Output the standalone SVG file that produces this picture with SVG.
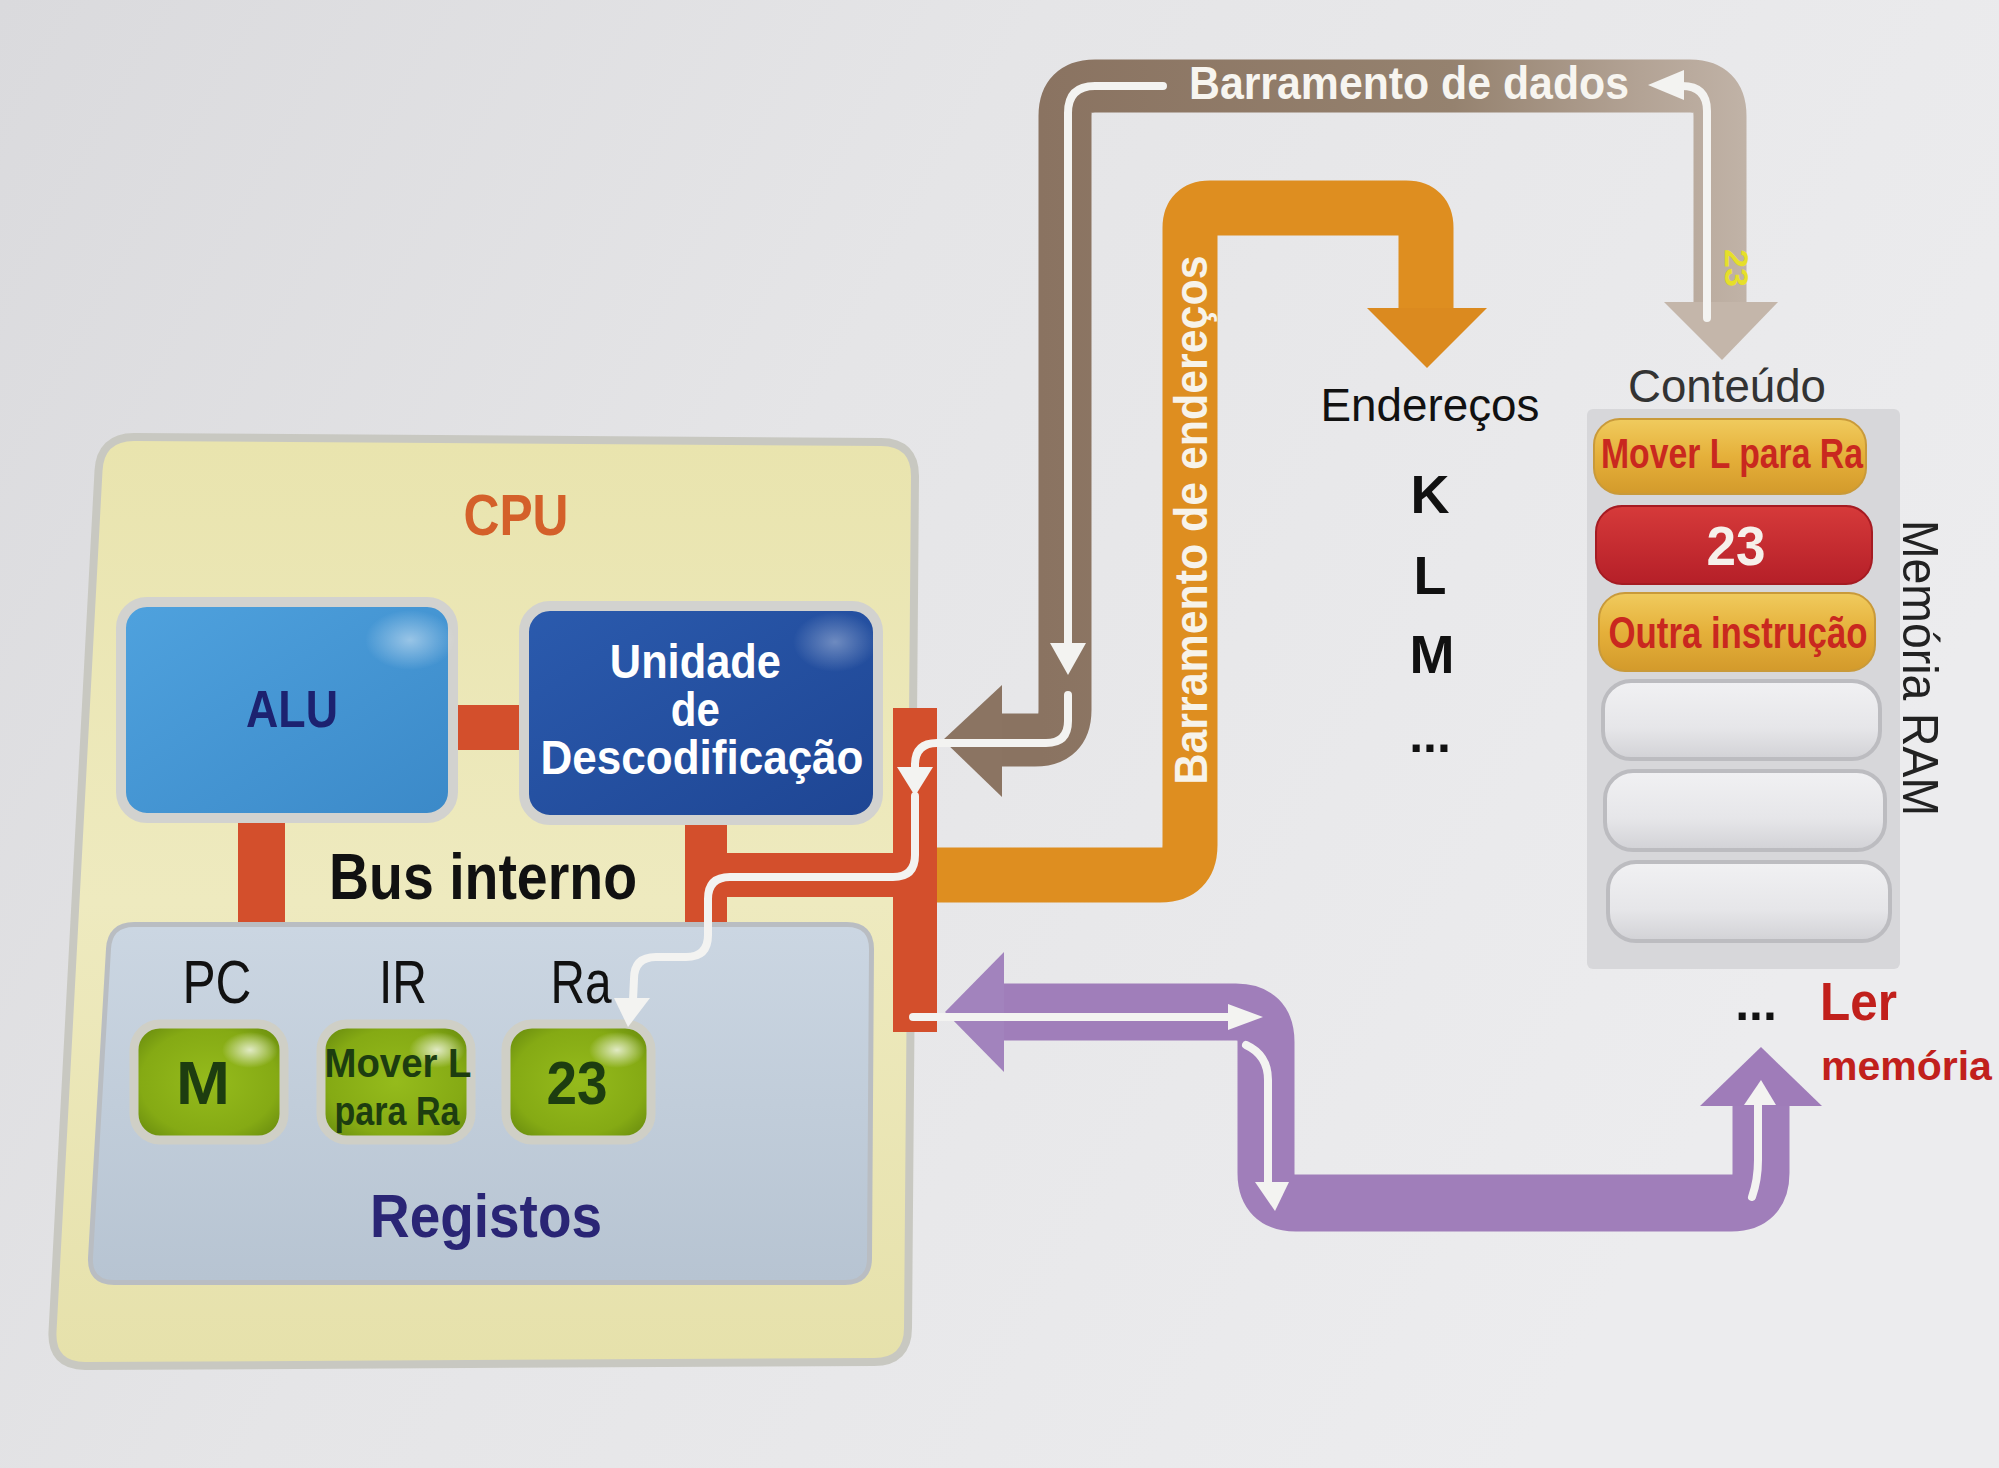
<svg xmlns="http://www.w3.org/2000/svg" width="1999" height="1468" viewBox="0 0 1999 1468">
<defs>
<style>
.t{font-family:"Liberation Sans",Arial,sans-serif}
.b{font-weight:bold}
.wl{fill:none;stroke:#f3f3f1;stroke-width:8;stroke-linecap:round;stroke-linejoin:round}
.wa{fill:#f3f3f1}
.red{fill:#d34f2c}
.rim{stroke:#d2d2cf;stroke-width:10}
.grim{stroke:#cfcfc6;stroke-width:9}
.bus{fill:none;stroke-linejoin:round}
</style>
<linearGradient id="bg" x1="0" y1="0" x2="1" y2="0.4">
<stop offset="0" stop-color="#dadadd"/><stop offset="0.45" stop-color="#e5e5e7"/><stop offset="1" stop-color="#ececee"/>
</linearGradient>
<linearGradient id="cpuG" x1="0" y1="0" x2="0" y2="1">
<stop offset="0" stop-color="#e9e4ae"/><stop offset="0.5" stop-color="#eeeabf"/><stop offset="1" stop-color="#e6e1ab"/>
</linearGradient>
<linearGradient id="aluG" x1="0" y1="0" x2="1" y2="1">
<stop offset="0" stop-color="#4fa2de"/><stop offset="1" stop-color="#3b89c8"/>
</linearGradient>
<linearGradient id="udG" x1="0" y1="0" x2="1" y2="1">
<stop offset="0" stop-color="#2b5bae"/><stop offset="1" stop-color="#1e4593"/>
</linearGradient>
<linearGradient id="regG" x1="0" y1="0" x2="0" y2="1">
<stop offset="0" stop-color="#cbd6e2"/><stop offset="1" stop-color="#b7c4d2"/>
</linearGradient>
<radialGradient id="greenG" cx="0.5" cy="0.5" r="0.65">
<stop offset="0" stop-color="#95bb1c"/><stop offset="0.7" stop-color="#85aa14"/><stop offset="1" stop-color="#678a0e"/>
</radialGradient>
<radialGradient id="gloss" cx="0.5" cy="0.5" r="0.5">
<stop offset="0" stop-color="#ffffff" stop-opacity="0.75"/><stop offset="1" stop-color="#ffffff" stop-opacity="0"/>
</radialGradient>
<linearGradient id="goldG" x1="0" y1="0" x2="0" y2="1">
<stop offset="0" stop-color="#f0cb5e"/><stop offset="0.5" stop-color="#e5b03a"/><stop offset="1" stop-color="#d39a2b"/>
</linearGradient>
<linearGradient id="redG" x1="0" y1="0" x2="0" y2="1">
<stop offset="0" stop-color="#d63a3a"/><stop offset="1" stop-color="#b51f28"/>
</linearGradient>
<linearGradient id="grayC" x1="0" y1="0" x2="0" y2="1">
<stop offset="0" stop-color="#f1f1f3"/><stop offset="0.6" stop-color="#e6e6e9"/><stop offset="1" stop-color="#d2d2d6"/>
</linearGradient>
<linearGradient id="brownG" gradientUnits="userSpaceOnUse" x1="1040" y1="0" x2="1790" y2="0">
<stop offset="0" stop-color="#8a7361"/><stop offset="0.55" stop-color="#95826f"/><stop offset="0.8" stop-color="#b3a395"/><stop offset="1" stop-color="#c6b9ae"/>
</linearGradient>
</defs>

<rect x="0" y="0" width="1999" height="1468" fill="url(#bg)"/>

<g id="cpu">
<path d="M134 441 L881 446 Q911 446 911 476 L904 1328 Q904 1358 874 1358 L85 1362 Q55 1362 56.5 1332 L102.5 471 Q104 441 134 441 Z" fill="url(#cpuG)" stroke="#c8c8c1" stroke-width="16" paint-order="stroke"/>
<text class="t b" x="516" y="535" font-size="58" fill="#d4602a" text-anchor="middle" textLength="105" lengthAdjust="spacingAndGlyphs">CPU</text>
</g>

<g id="bus-interno">
<rect class="red" x="448" y="705" width="84" height="45"/>
<rect class="red" x="238" y="815" width="47" height="115"/>
<rect class="red" x="685" y="815" width="42" height="115"/>
<rect class="red" x="685" y="853" width="252" height="44"/>
<rect class="red" x="893" y="708" width="44" height="324"/>
<text class="t b" x="483" y="899" font-size="64" fill="#111" text-anchor="middle" textLength="308" lengthAdjust="spacingAndGlyphs">Bus interno</text>
</g>

<g id="alu">
<rect x="121" y="602" width="332" height="216" rx="26" fill="url(#aluG)" class="rim"/>
<ellipse cx="410" cy="640" rx="45" ry="30" fill="url(#gloss)" opacity="0.6"/>
<text class="t b" x="292" y="727" font-size="52" fill="#1c2270" text-anchor="middle" textLength="92" lengthAdjust="spacingAndGlyphs">ALU</text>
</g>

<g id="unidade-descodificacao">
<rect x="524" y="606" width="354" height="214" rx="26" fill="url(#udG)" class="rim"/>
<ellipse cx="835" cy="642" rx="42" ry="30" fill="url(#gloss)" opacity="0.45"/>
<text class="t b" font-size="48" fill="#ffffff" text-anchor="middle">
<tspan x="702" y="678" textLength="171" lengthAdjust="spacingAndGlyphs">Unidade</tspan>
<tspan x="702" y="726" textLength="49" lengthAdjust="spacingAndGlyphs">de</tspan>
<tspan x="702" y="774" textLength="323" lengthAdjust="spacingAndGlyphs">Descodificação</tspan>
</text>
</g>

<g id="registos">
<path d="M134 927 L847 927 Q869 927 869 949 L867 1258 Q867 1280 845 1280 L114 1280 Q92 1280 93 1258 L111 949 Q112 927 134 927 Z" fill="url(#regG)" stroke="#b9bdc2" stroke-width="10" paint-order="stroke"/>
<text class="t" x="217" y="1003" font-size="62" fill="#111" text-anchor="middle" textLength="69" lengthAdjust="spacingAndGlyphs">PC</text>
<text class="t" x="403" y="1003" font-size="62" fill="#111" text-anchor="middle" textLength="48" lengthAdjust="spacingAndGlyphs">IR</text>
<text class="t" x="581" y="1003" font-size="62" fill="#111" text-anchor="middle" textLength="61" lengthAdjust="spacingAndGlyphs">Ra</text>
<text class="t b" x="486" y="1237" font-size="61" fill="#2a2575" text-anchor="middle" textLength="232" lengthAdjust="spacingAndGlyphs">Registos</text>
</g>

<g id="reg-pc">
<rect x="134" y="1024" width="150" height="116" rx="26" fill="url(#greenG)" class="grim"/>
<ellipse cx="250" cy="1050" rx="28" ry="18" fill="url(#gloss)"/>
<text class="t b" x="203" y="1104" font-size="62" fill="#1d3d10" text-anchor="middle" textLength="54" lengthAdjust="spacingAndGlyphs">M</text>
</g>
<g id="reg-ir">
<rect x="321" y="1024" width="150" height="116" rx="26" fill="url(#greenG)" class="grim"/>
<ellipse cx="437" cy="1050" rx="28" ry="18" fill="url(#gloss)"/>
<text class="t b" x="398" y="1077" font-size="40" fill="#1d3d10" text-anchor="middle" textLength="147" lengthAdjust="spacingAndGlyphs">Mover L</text>
<text class="t b" x="397" y="1125" font-size="40" fill="#1d3d10" text-anchor="middle" textLength="125" lengthAdjust="spacingAndGlyphs">para Ra</text>
</g>
<g id="reg-ra">
<rect x="506" y="1024" width="145" height="116" rx="26" fill="url(#greenG)" class="grim"/>
<ellipse cx="617" cy="1050" rx="28" ry="18" fill="url(#gloss)"/>
<text class="t b" x="577" y="1104" font-size="62" fill="#1d3d10" text-anchor="middle" textLength="61" lengthAdjust="spacingAndGlyphs">23</text>
</g>

<g id="memoria-ram">
<rect x="1587" y="409" width="313" height="560" rx="6" fill="#d7d7da"/>
<g id="ram-cell-1">
<rect x="1594" y="419" width="272" height="75" rx="26" fill="url(#goldG)" stroke="#c99a3a" stroke-width="2"/>
<text class="t b" x="1732" y="468" font-size="42" fill="#c9281f" text-anchor="middle" textLength="262" lengthAdjust="spacingAndGlyphs">Mover L para Ra</text>
</g>
<g id="ram-cell-2">
<rect x="1596" y="506" width="276" height="78" rx="26" fill="url(#redG)" stroke="#a51b22" stroke-width="2"/>
<text class="t b" x="1736" y="565" font-size="56" fill="#f6f0ea" text-anchor="middle" textLength="59" lengthAdjust="spacingAndGlyphs">23</text>
</g>
<g id="ram-cell-3">
<rect x="1599" y="593" width="276" height="78" rx="26" fill="url(#goldG)" stroke="#c99a3a" stroke-width="2"/>
<text class="t b" x="1738" y="648" font-size="44" fill="#c9281f" text-anchor="middle" textLength="259" lengthAdjust="spacingAndGlyphs">Outra instrução</text>
</g>
<g id="ram-cell-4"><rect x="1603" y="681" width="277" height="78" rx="28" fill="url(#grayC)" stroke="#bcbcc0" stroke-width="4"/></g>
<g id="ram-cell-5"><rect x="1605" y="771" width="280" height="79" rx="28" fill="url(#grayC)" stroke="#bcbcc0" stroke-width="4"/></g>
<g id="ram-cell-6"><rect x="1608" y="862" width="282" height="79" rx="28" fill="url(#grayC)" stroke="#bcbcc0" stroke-width="4"/></g>
<text class="t" x="1727" y="402" font-size="46" fill="#333" text-anchor="middle" textLength="198" lengthAdjust="spacingAndGlyphs">Conteúdo</text>
<text class="t" transform="translate(1903 668) rotate(90)" x="0" y="0" font-size="50" fill="#222" text-anchor="middle" textLength="296" lengthAdjust="spacingAndGlyphs">Memória RAM</text>
<text class="t b" x="1756" y="1020" font-size="50" fill="#111" text-anchor="middle">...</text>
<text class="t b" x="1820" y="1020" font-size="54" fill="#c1201c" textLength="77" lengthAdjust="spacingAndGlyphs">Ler</text>
<text class="t b" x="1821" y="1080" font-size="41" fill="#c1201c">memória</text>
</g>

<g id="enderecos">
<text class="t" x="1430" y="421" font-size="46" fill="#111" text-anchor="middle" textLength="219" lengthAdjust="spacingAndGlyphs">Endereços</text>
<text class="t b" x="1430" y="513" font-size="54" fill="#111" text-anchor="middle">K</text>
<text class="t b" x="1430" y="594" font-size="54" fill="#111" text-anchor="middle">L</text>
<text class="t b" x="1432" y="673" font-size="54" fill="#111" text-anchor="middle">M</text>
<text class="t b" x="1430" y="752" font-size="50" fill="#111" text-anchor="middle">...</text>
</g>

<g id="connectors">
<g id="barramento-dados">
<path class="bus" d="M998 740 L1035 740 Q1065 740 1065 710 L1065 116 Q1065 86 1095 86 L1690 86 Q1720 86 1720 116 L1720 306" stroke="url(#brownG)" stroke-width="53"/>
<polygon points="943,740 1002,685 1002,797" fill="#8b7462"/>
<polygon points="1664,302 1778,302 1722,360" fill="#c4b6aa"/>
<path class="wl" d="M1163 86 L1095 86 Q1068 86 1068 113 L1068 646"/>
<polygon class="wa" points="1050,643 1086,643 1068,675"/>
<polygon class="wa" points="1648,85 1684,70 1684,100"/>
<path class="wl" d="M1682 86 Q1707 86 1707 111 L1707 318"/>
<text class="t b" x="1409" y="99" font-size="46" fill="#f7f5f0" text-anchor="middle" textLength="440" lengthAdjust="spacingAndGlyphs">Barramento de dados</text>
<text class="t b" transform="translate(1725 268) rotate(90)" x="0" y="0" font-size="34" fill="#e6df2a" text-anchor="middle">23</text>
</g>
<g id="barramento-enderecos">
<path class="bus" d="M937 875 L1160 875 Q1190 875 1190 845 L1190 228 Q1190 208 1210 208 L1406 208 Q1426 208 1426 228 L1426 312" stroke="#de8e20" stroke-width="55"/>
<polygon points="1367,308 1487,308 1427,368" fill="#db8a1f"/>
<text class="t b" transform="translate(1207 520) rotate(-90)" x="0" y="0" font-size="46" fill="#f7f3ea" text-anchor="middle" textLength="529" lengthAdjust="spacingAndGlyphs">Barramento de endereços</text>
</g>
<g id="ler-memoria">
<path class="bus" d="M1000 1012 L1236 1012 Q1266 1012 1266 1042 L1266 1173 Q1266 1203 1296 1203 L1731 1203 Q1761 1203 1761 1173 L1761 1104" stroke="#a07eba" stroke-width="57"/>
<polygon points="945,1012 1004,952 1004,1072" fill="#a283bd"/>
<polygon points="1700,1106 1822,1106 1761,1047" fill="#9f7cb9"/>
<path class="wl" d="M913 1017 L1232 1017"/>
<polygon class="wa" points="1228,1004 1263,1017 1228,1030"/>
<path class="wl" d="M1246 1045 Q1268 1055 1268 1080 L1268 1184"/>
<polygon class="wa" points="1255,1182 1289,1182 1275,1211"/>
<path class="wl" d="M1752 1197 Q1758 1180 1758 1160 L1758 1102"/>
<polygon class="wa" points="1744,1105 1776,1105 1761,1080"/>
</g>
<g id="fluxo-dados-interno">
<path class="wl" d="M1068 695 L1068 721 Q1068 743 1046 743 L937 743 Q915 743 915 765 L915 770"/>
<polygon class="wa" points="897,767 933,767 915,796"/>
<path class="wl" d="M915 796 L915 855 Q915 877 893 877 L730 877 Q708 877 708 899 L708 935 Q708 957 686 957 L656 957 Q634 957 634 979 L633 1000"/>
<polygon class="wa" points="614,998 650,998 628,1027"/>
</g>
</g>
</svg>
